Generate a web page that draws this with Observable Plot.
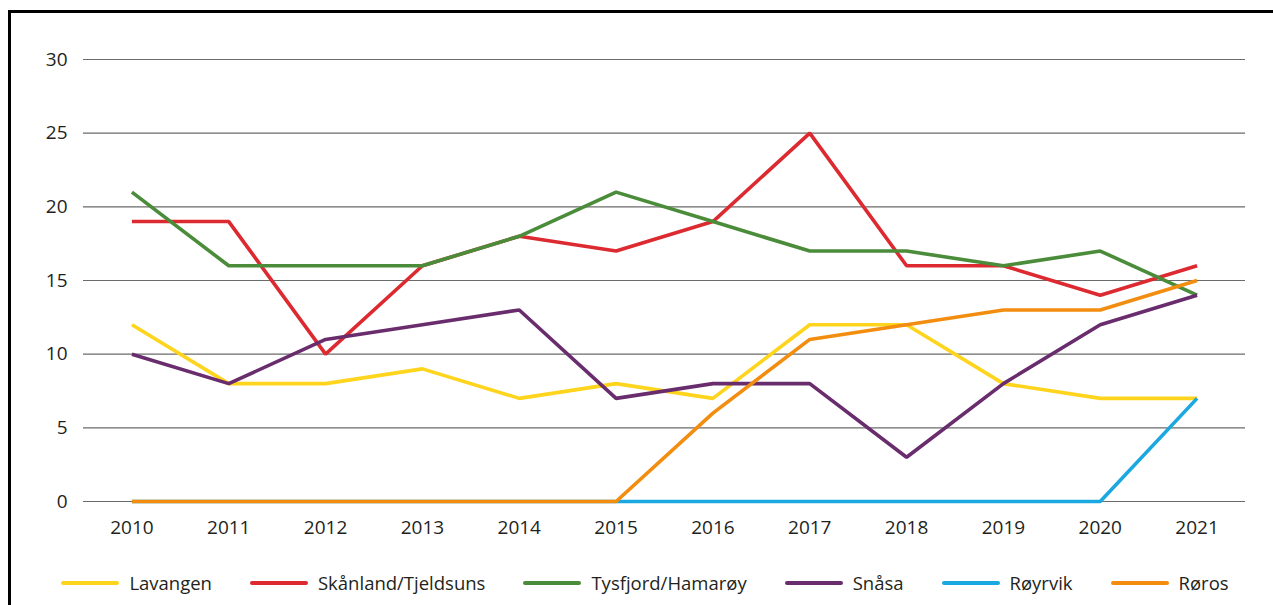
<!DOCTYPE html>
<html>
<head>
<meta charset="utf-8">
<script src="https://cdn.jsdelivr.net/npm/d3@7"></script>
<script src="https://cdn.jsdelivr.net/npm/@observablehq/plot@0.6"></script>
<style>
  html, body { margin: 0; padding: 0; background: #fff; width: 1273px; height: 605px; overflow: hidden; }
  body { position: relative; font-family: "Open Sans", sans-serif; color: #231f20; }
  #frame { position: absolute; left: 8px; top: 10px; width: 1400px; height: 700px; border: 3px solid #000; box-sizing: border-box; }
  #chart { position: absolute; left: 0; top: 0; }
  #legend { position: absolute; left: 0; width: 1290px; top: 570px; display: flex; justify-content: center; gap: 38px; font-size: 18.5px; }
  .item { display: flex; align-items: center; gap: 10px; }
  .swatch { width: 58px; height: 4px; border-radius: 2px; }
</style>
</head>
<body>
<div id="frame"></div>
<div id="chart"></div>
<div id="legend"></div>
<script>
const years = [2010, 2011, 2012, 2013, 2014, 2015, 2016, 2017, 2018, 2019, 2020, 2021];
const seriesNames = ["Lavangen", "Skånland/Tjeldsuns", "Tysfjord/Hamarøy", "Snåsa", "Røyrvik", "Røros"];
const seriesColors = ["#fed41c", "#dc2a30", "#4b8c3b", "#692c6d", "#1ba8e0", "#f28d10"];
const lavangen = [12, 8, 8, 9, 7, 8, 7, 12, 12, 8, 7, 7];
const skanland = [19, 19, 10, 16, 18, 17, 19, 25, 16, 16, 14, 16];
const tysfjord = [21, 16, 16, 16, 18, 21, 19, 17, 17, 16, 17, 14];
const snasa = [10, 8, 11, 12, 13, 7, 8, 8, 3, 8, 12, 14];
const royrvik = [0, 0, 0, 0, 0, 0, 0, 0, 0, 0, 0, 7];
const roros = [0, 0, 0, 0, 0, 0, 6, 11, 12, 13, 13, 15];
const yTicks = [0, 5, 10, 15, 20, 25, 30];

const allValues = [lavangen, skanland, tysfjord, snasa, royrvik, roros];
const data = [];
seriesNames.forEach((name, i) => {
  years.forEach((yr, j) => data.push({series: name, year: String(yr), value: allValues[i][j]}));
});

const chart = Plot.plot({
  width: 1273,
  height: 545,
  marginTop: 59,
  marginBottom: 44,
  marginLeft: 83,
  marginRight: 28,
  style: {fontFamily: "'Open Sans', sans-serif", fontSize: "19px", color: "#231f20", background: "transparent"},
  x: {type: "point", domain: years.map(String), padding: 0.5, round: false, label: null, tickSize: 0, tickPadding: 19},
  y: {domain: [0, 30], ticks: yTicks, label: null, tickSize: 0, tickPadding: 16},
  color: {domain: seriesNames, range: seriesColors},
  marks: [
    Plot.ruleY(yTicks, {stroke: "#6b6b6b", strokeWidth: 1.2}),
    Plot.axisY({ticks: yTicks, tickSize: 0, tickPadding: 16, label: null}),
    Plot.axisX({tickSize: 0, tickPadding: 19, label: null}),
    Plot.line(data, {x: "year", y: "value", z: "series", stroke: "series", strokeWidth: 3.6, strokeLinejoin: "miter", strokeLinecap: "butt"})
  ]
});
document.getElementById("chart").appendChild(chart);

const legend = document.getElementById("legend");
seriesNames.forEach((name, i) => {
  const item = document.createElement("div");
  item.className = "item";
  const sw = document.createElement("div");
  sw.className = "swatch";
  sw.style.background = seriesColors[i];
  const label = document.createElement("span");
  label.textContent = name;
  item.appendChild(sw);
  item.appendChild(label);
  legend.appendChild(item);
});
</script>
</body>
</html>
